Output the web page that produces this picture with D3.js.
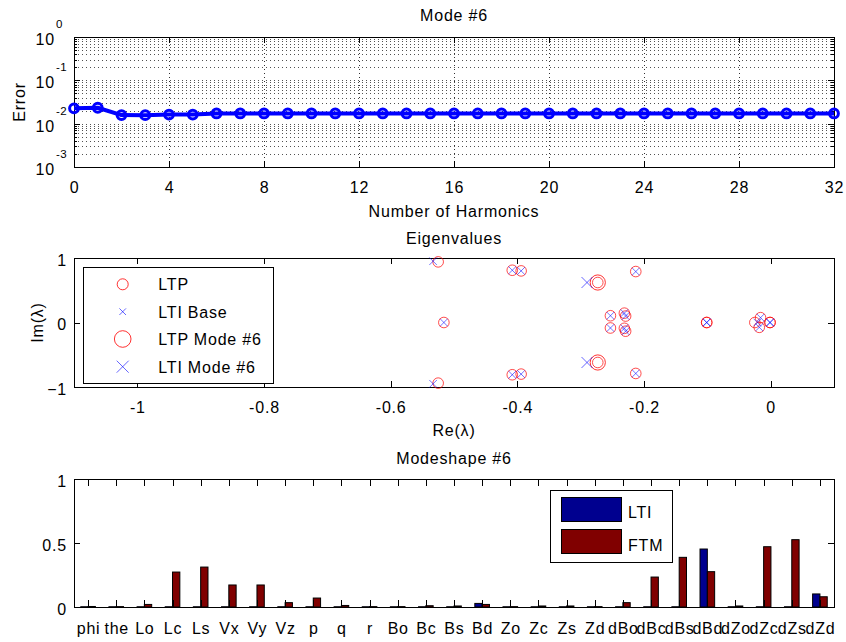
<!DOCTYPE html>
<html><head><meta charset="utf-8">
<script src="https://cdn.jsdelivr.net/npm/d3@7"></script>
<style>
body{margin:0;background:#fff;}
svg text{font-family:"Liberation Sans",Arial,Helvetica,sans-serif;font-size:16px;letter-spacing:0.8px;fill:#000;}
svg text.sup{font-size:11.5px;letter-spacing:0.3px;}
</style></head><body>
<svg id="chart" width="846" height="642"></svg>
<script>
// ---------------- DATA ----------------
const harmonics = [0,1,2,3,4,5,6,7,8,9,10,11,12,13,14,15,16,17,18,19,20,21,22,23,24,25,26,27,28,29,30,31,32];
const errorValues = [0.0226,0.0233,0.0158,0.0157,0.0162,0.0162,0.0172,0.0172,0.0172,0.0172,0.0172,0.0172,0.0172,0.0172,0.0172,0.0172,0.0172,0.0172,0.0172,0.0172,0.0172,0.0172,0.0172,0.0172,0.0172,0.0172,0.0172,0.0172,0.0172,0.0172,0.0172,0.0172,0.0172];
const harmonicTicks = [0,4,8,12,16,20,24,28,32];
const errorMajorTicks = [1,0.1,0.01,0.001];
const errorTickExponents = ["0","-1","-2","-3"];

const ltpEigen = [[-0.525,0.94],[-0.525,-0.94],[-0.516,0],[-0.408,0.81],[-0.394,0.80],[-0.408,-0.81],[-0.394,-0.80],
  [-0.213,0.79],[-0.213,-0.79],[-0.253,0.105],[-0.253,-0.085],[-0.231,0.145],[-0.229,0.10],[-0.231,-0.09],[-0.229,-0.135],
  [-0.273,0.62],[-0.273,-0.62],[-0.101,0],[-0.101,0],[-0.025,0],[-0.016,0.075],[-0.018,-0.075],[-0.001,0],[-0.001,0]];
const ltiBaseEigen = [[-0.533,0.95],[-0.533,-0.95],[-0.516,0],[-0.408,0.81],[-0.394,0.80],[-0.408,-0.81],[-0.394,-0.80],
  [-0.213,0.79],[-0.213,-0.79],[-0.253,0.105],[-0.253,-0.085],[-0.231,0.145],[-0.229,0.10],[-0.231,-0.09],[-0.229,-0.135],
  [-0.101,0],[-0.101,0],[-0.021,0],[-0.016,0.075],[-0.018,-0.075],[-0.001,0],[-0.001,0]];
const ltpModeEigen = [[-0.273,0.62],[-0.273,-0.62]];
const ltiModeEigen = [[-0.29,0.62],[-0.29,-0.62]];
const reTicks = [-1,-0.8,-0.6,-0.4,-0.2,0];
const imTicks = [-1,0,1];
const eigenLegend = ["LTP","LTI Base","LTP Mode #6","LTI Mode #6"];

const states = ["phi","the","Lo","Lc","Ls","Vx","Vy","Vz","p","q","r","Bo","Bc","Bs","Bd","Zo","Zc","Zs","Zd","dBo","dBc","dBs","dBd","dZo","dZc","dZs","dZd"];
const ltiValues = [0.002,0.002,0.002,0.002,0.002,0.002,0.002,0.002,0.002,0.002,0.002,0.002,0.002,0.002,0.028,0.002,0.002,0.002,0.002,0.002,0.002,0.002,0.453,0.002,0.002,0.002,0.102];
const ftmValues = [0.004,0.003,0.02,0.273,0.312,0.172,0.172,0.034,0.07,0.012,0.003,0.003,0.01,0.008,0.02,0.003,0.008,0.008,0.003,0.034,0.234,0.388,0.276,0.008,0.471,0.526,0.08];
const modeshapeTicks = [0,0.5,1];
const barLegend = ["LTI","FTM"];

// ---------------- LAYOUT ----------------
const svg = d3.select("#chart");
const L = 74, R = 834, CX = (L + R) / 2;
const blue = "#0000ff", red = "#ff0000", ltiColor = "#00008f", ftmColor = "#800000";

function clean(g){ g.select(".domain").remove(); g.selectAll(".tick line").attr("shape-rendering","crispEdges"); }
function box(g, top, bottom){
  g.append("rect").attr("x",L+0.5).attr("y",Math.round(top)+0.5).attr("width",R-L).attr("height",Math.round(bottom)-Math.round(top))
   .attr("fill","none").attr("stroke","#000").attr("shape-rendering","crispEdges");
}

// ============ Panel 1: error vs harmonics ============
const t1 = 37, b1 = 167;
const x1 = d3.scaleLinear().domain([0,32]).range([L,R]);
const y1 = d3.scaleLog().domain([1e-3,1]).range([b1,t1]);
const g1 = svg.append("g");
const allLog = y1.ticks();
const minorLog = allLog.filter(v => errorMajorTicks.indexOf(v) < 0);
// grid
g1.append("g").selectAll("line").data(allLog.filter(v => v > 1e-3 && v < 1)).join("line")
  .attr("x1",L).attr("x2",R).attr("y1",d=>Math.round(y1(d))+0.5).attr("y2",d=>Math.round(y1(d))+0.5)
  .attr("stroke","#333").attr("stroke-opacity",0.85).attr("stroke-dasharray","1,3").attr("shape-rendering","crispEdges");
g1.append("g").selectAll("line").data(harmonicTicks.slice(1,-1)).join("line")
  .attr("x1",d=>Math.round(x1(d))+0.5).attr("x2",d=>Math.round(x1(d))+0.5).attr("y1",t1).attr("y2",b1)
  .attr("stroke","#333").attr("stroke-dasharray","1,3").attr("shape-rendering","crispEdges");
// axes
g1.append("g").attr("transform",`translate(0,${b1})`)
  .call(d3.axisBottom(x1).tickValues(harmonicTicks).tickSize(-6).tickPadding(15).tickFormat(d3.format("d"))).call(clean);
g1.append("g").attr("transform",`translate(0,${t1})`)
  .call(d3.axisTop(x1).tickValues(harmonicTicks).tickSize(-6).tickFormat("")).call(clean);
g1.append("g").attr("transform",`translate(${L},0)`)
  .call(d3.axisLeft(y1).tickValues(errorMajorTicks).tickSize(-6).tickFormat("")).call(clean);
g1.append("g").attr("transform",`translate(${L},0)`)
  .call(d3.axisLeft(y1).tickValues(minorLog).tickSize(-3).tickFormat("")).call(clean);
g1.append("g").attr("transform",`translate(${R},0)`)
  .call(d3.axisRight(y1).tickValues(errorMajorTicks).tickSize(-6).tickFormat("")).call(clean);
g1.append("g").attr("transform",`translate(${R},0)`)
  .call(d3.axisRight(y1).tickValues(minorLog).tickSize(-3).tickFormat("")).call(clean);
box(g1, t1, b1);
// log labels 10^k
const lab1 = g1.append("g");
errorMajorTicks.forEach((v,i) => {
  lab1.append("text").attr("x",55).attr("y",y1(v)+8).attr("text-anchor","end").text("10");
  lab1.append("text").attr("class","sup").attr("x",56).attr("y",y1(v)-9).text(errorTickExponents[i]);
});
// line + markers
const line1 = d3.line().x((d,i)=>x1(harmonics[i])).y(d=>y1(d));
g1.append("path").datum(errorValues).attr("d",line1).attr("fill","none").attr("stroke",blue).attr("stroke-width",4).attr("stroke-linejoin","round");
g1.append("g").selectAll("circle").data(errorValues).join("circle")
  .attr("cx",(d,i)=>x1(harmonics[i])).attr("cy",d=>y1(d)).attr("r",4.4)
  .attr("fill","none").attr("stroke",blue).attr("stroke-width",3);
g1.append("text").attr("x",CX).attr("y",21).attr("text-anchor","middle").text("Mode #6");
g1.append("text").attr("x",CX).attr("y",216.5).attr("text-anchor","middle").text("Number of Harmonics");
g1.append("text").attr("transform",`translate(25,${(t1+b1)/2}) rotate(-90)`).attr("text-anchor","middle").text("Error");

// ============ Panel 2: eigenvalues ============
const t2 = 258, b2 = 387;
const x2 = d3.scaleLinear().domain([-1.1,0.1]).range([L,R]);
const y2 = d3.scaleLinear().domain([-1,1]).range([b2,t2]);
const g2 = svg.append("g");
g2.append("g").attr("transform",`translate(0,${b2})`)
  .call(d3.axisBottom(x2).tickValues(reTicks).tickSize(-6).tickPadding(15).tickFormat(d=>d===0?"0":String(d))).call(clean);
g2.append("g").attr("transform",`translate(0,${t2})`)
  .call(d3.axisTop(x2).tickValues(reTicks).tickSize(-6).tickFormat("")).call(clean);
g2.append("g").attr("transform",`translate(${L},0)`)
  .call(d3.axisLeft(y2).tickValues(imTicks).tickSize(-6).tickPadding(7).tickFormat(d3.format("d"))).call(clean)
  .call(g=>g.selectAll(".tick text").attr("dy","0.45em"));
g2.append("g").attr("transform",`translate(${R},0)`)
  .call(d3.axisRight(y2).tickValues(imTicks).tickSize(-6).tickFormat("")).call(clean);
box(g2, t2, b2);
const xPath = h => `M${-h},${-h}L${h},${h}M${-h},${h}L${h},${-h}`;
g2.append("g").selectAll("circle").data(ltpEigen).join("circle")
  .attr("cx",d=>x2(d[0])).attr("cy",d=>y2(d[1])).attr("r",5.3)
  .attr("fill","none").attr("stroke",red).attr("stroke-opacity",0.7);
g2.append("g").selectAll("path").data(ltiBaseEigen).join("path")
  .attr("transform",d=>`translate(${x2(d[0])},${y2(d[1])})`).attr("d",xPath(3.8))
  .attr("fill","none").attr("stroke",blue).attr("stroke-opacity",0.55);
g2.append("g").selectAll("circle").data(ltpModeEigen).join("circle")
  .attr("cx",d=>x2(d[0])).attr("cy",d=>y2(d[1])).attr("r",7.6)
  .attr("fill","none").attr("stroke",red).attr("stroke-opacity",0.8);
g2.append("g").selectAll("path").data(ltiModeEigen).join("path")
  .attr("transform",d=>`translate(${x2(d[0])},${y2(d[1])})`).attr("d",xPath(5.5))
  .attr("fill","none").attr("stroke",blue).attr("stroke-opacity",0.6);
// legend
const lg2 = g2.append("g");
lg2.append("rect").attr("x",83.5).attr("y",267.5).attr("width",190).attr("height",116)
  .attr("fill","#fff").attr("stroke","#000").attr("shape-rendering","crispEdges");
const legY2 = [284.3,311.7,339,366.7];
lg2.append("circle").attr("cx",122.7).attr("cy",legY2[0]).attr("r",5.5).attr("fill","none").attr("stroke",red).attr("stroke-opacity",0.8);
lg2.append("path").attr("transform",`translate(122.7,${legY2[1]})`).attr("d",xPath(3.3)).attr("stroke",blue).attr("stroke-opacity",0.6);
lg2.append("circle").attr("cx",122.7).attr("cy",legY2[2]).attr("r",8.3).attr("fill","none").attr("stroke",red).attr("stroke-opacity",0.8);
lg2.append("path").attr("transform",`translate(122.7,${legY2[3]})`).attr("d",xPath(6)).attr("stroke",blue).attr("stroke-opacity",0.6);
eigenLegend.forEach((t,i)=>lg2.append("text").attr("x",158.3).attr("y",legY2[i]+6).text(t));
g2.append("text").attr("x",CX).attr("y",244).attr("text-anchor","middle").text("Eigenvalues");
g2.append("text").attr("x",CX).attr("y",435.5).attr("text-anchor","middle").text("Re(λ)");
g2.append("text").attr("transform",`translate(43,${(t2+b2)/2}) rotate(-90)`).attr("text-anchor","middle").text("Im(λ)");

// ============ Panel 3: modeshape bars ============
const t3 = 479, b3 = 607;
const x3 = d3.scaleLinear().domain([0.5,27.5]).range([L,R]);
const y3 = d3.scaleLinear().domain([0,1]).range([b3,t3]);
const g3 = svg.append("g");
const bw = 0.26;
const idx = states.map((s,i)=>i+1);
g3.append("g").selectAll("rect").data(ltiValues).join("rect")
  .attr("x",(d,i)=>x3(idx[i]-bw)).attr("width",x3(bw)-x3(0))
  .attr("y",d=>y3(d)).attr("height",d=>y3(0)-y3(d))
  .attr("fill",ltiColor).attr("stroke","#000").attr("stroke-width",1);
g3.append("g").selectAll("rect").data(ftmValues).join("rect")
  .attr("x",(d,i)=>x3(idx[i])).attr("width",x3(bw)-x3(0))
  .attr("y",d=>y3(d)).attr("height",d=>y3(0)-y3(d))
  .attr("fill",ftmColor).attr("stroke","#000").attr("stroke-width",1);
g3.append("g").attr("transform",`translate(0,${b3})`)
  .call(d3.axisBottom(x3).tickValues(idx).tickSize(-7).tickPadding(15.5).tickFormat(d=>states[d-1])).call(clean);
g3.append("g").attr("transform",`translate(0,${t3})`)
  .call(d3.axisTop(x3).tickValues(idx).tickSize(-7).tickFormat("")).call(clean);
g3.append("g").attr("transform",`translate(${L},0)`)
  .call(d3.axisLeft(y3).tickValues(modeshapeTicks).tickSize(-6).tickPadding(7).tickFormat(d=>d===0?"0":d===1?"1":"0.5")).call(clean)
  .call(g=>g.selectAll(".tick text").attr("dy","0.45em"));
g3.append("g").attr("transform",`translate(${R},0)`)
  .call(d3.axisRight(y3).tickValues(modeshapeTicks).tickSize(-6).tickFormat("")).call(clean);
box(g3, t3, b3);
// legend
const lg3 = g3.append("g");
lg3.append("rect").attr("x",550.5).attr("y",490.5).attr("width",122).attr("height",72)
  .attr("fill","#fff").attr("stroke","#000").attr("shape-rendering","crispEdges");
[ltiColor, ftmColor].forEach((c,i)=>{
  lg3.append("rect").attr("x",561.5).attr("y",[497.5,529.5][i]).attr("width",60).attr("height",24)
    .attr("fill",c).attr("stroke","#000").attr("shape-rendering","crispEdges");
  lg3.append("text").attr("x",628).attr("y",[518,551][i]).text(barLegend[i]);
});
g3.append("text").attr("x",CX).attr("y",464).attr("text-anchor","middle").text("Modeshape #6");
</script>
</body></html>
